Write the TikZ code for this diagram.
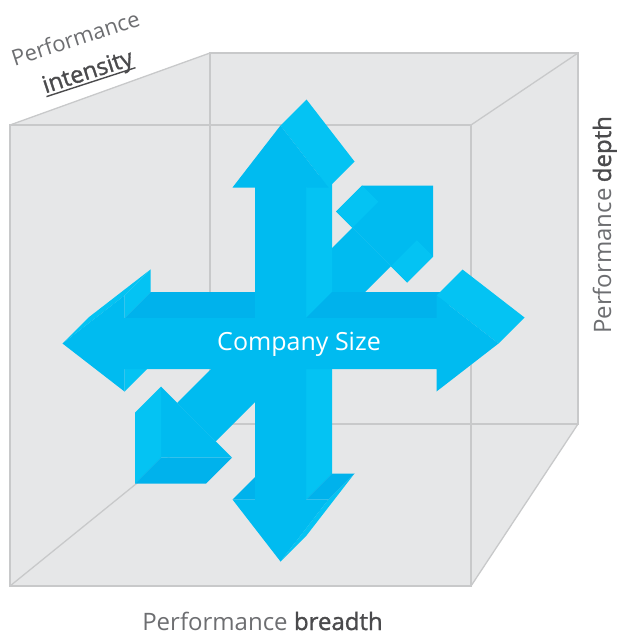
\documentclass[tikz,border=0pt]{standalone}
\usepackage{fontspec}
\setmainfont{Open Sans}
\newfontfamily\semib[FakeBold=1.3]{Open Sans}
\definecolor{cubefill}{HTML}{E6E7E8}
\definecolor{cubeline}{HTML}{C8C9CA}
\definecolor{cyanmid}{HTML}{00BBF0}
\definecolor{cyanlite}{HTML}{04C3F3}
\definecolor{cyandark}{HTML}{00B2EC}
\definecolor{labelgray}{HTML}{6D6E71}
\definecolor{labeldark}{HTML}{4A4A4C}
\newcommand{\ulword}[1]{\setbox0=\hbox{#1}\rlap{\rule[-4pt]{\wd0}{1.4pt}}\box0}
\begin{document}
\begin{tikzpicture}[x=1pt,y=-1pt,
  cubeedge/.style={draw=cubeline,line width=1.3pt,line cap=round},
  facemid/.style={fill=cyanmid},
  facelite/.style={fill=cyanlite},
  facedark/.style={fill=cyandark},
  lbl/.style={inner sep=0pt,text=labelgray,font=\fontsize{24}{28}\selectfont},
  slantlbl/.style={lbl,font=\fontsize{22}{26}\selectfont,anchor=base,rotate=18}]
\useasboundingbox (0,0) rectangle (617,639);

% ---- transparent cube ----
\fill[cubefill] (10,125) -- (210,53) -- (578,53) -- (578,424) -- (471,586) -- (10,586) -- cycle;
\draw[cubeedge] (210,53) -- (578,53) -- (578,424) -- (210,424) -- cycle;
\draw[cubeedge] (10,125) -- (471,125) -- (471,586) -- (10,586) -- cycle;
\draw[cubeedge] (10,125) -- (210,53);
\draw[cubeedge] (471,125) -- (578,53);
\draw[cubeedge] (471,586) -- (578,424);
\draw[cubeedge] (10,586) -- (210,424);

% ---- diagonal (depth) double arrow, behind the cross ----
% shaft
\fill[facemid] (177.25,402.75) -- (352.25,227.75) -- (390.75,266.25) -- (215.75,441.25) -- cycle;
% upper right head
\fill[facemid] (352.25,227.75) -- (336,211.5) -- (362,185.5) -- (433,185.5) -- (433,256.5)
  -- (407,282.5) -- (390.75,266.25) -- cycle;
\fill[facelite] (336,211.5) -- (352.25,227.75) -- (378.25,201.75) -- (362,185.5) -- cycle;
\fill[facelite] (390.75,266.25) -- (407,282.5) -- (433,256.5) -- (416.75,240.25) -- cycle;
% lower left head
\fill[facemid] (161,386.5) -- (161,457.5) -- (232,457.5) -- cycle;
\fill[facelite] (135,412.5) -- (161,386.5) -- (161,457.5) -- (135,483.5) -- cycle;
\fill[facedark] (135,483.5) -- (161,457.5) -- (232,457.5) -- (206,483.5) -- cycle;

% ---- cross: side faces ----
\fill[facelite] (306,187.5) -- (332,161.5) -- (332,292) -- (306,318) -- cycle;
\fill[facelite] (306,369) -- (332,343) -- (332,473.5) -- (306,499.5) -- cycle;
\fill[facelite] (280.5,125.5) -- (306.5,99.5) -- (354.5,161.5) -- (328.5,187.5) -- cycle;
\fill[facelite] (280.5,561.5) -- (328.5,499.5) -- (354.5,473.5) -- (306.5,535.5) -- cycle;
\fill[facedark] (232.5,499.5) -- (255,499.5) -- (281,473.5) -- (258.5,473.5) -- cycle;
\fill[facedark] (306,499.5) -- (328.5,499.5) -- (354.5,473.5) -- (332,473.5) -- cycle;
\fill[facedark] (124.5,318) -- (150.5,292) -- (281,292) -- (255,318) -- cycle;
\fill[facedark] (306,318) -- (332,292) -- (462.5,292) -- (436.5,318) -- cycle;
\fill[facelite] (62.5,343.5) -- (88.5,317.5) -- (150.5,269.5) -- (124.5,295.5) -- cycle;
\fill[facelite] (124.5,295.5) -- (150.5,269.5) -- (150.5,292) -- (124.5,318) -- cycle;
\fill[facelite] (124.5,369) -- (150.5,343) -- (150.5,365.5) -- (124.5,391.5) -- cycle;
\fill[facelite] (436.5,295.5) -- (498.5,343.5) -- (524.5,317.5) -- (462.5,269.5) -- cycle;

% ---- cross: front faces ----
\fill[facemid] (255,499.5) -- (232.5,499.5) -- (280.5,561.5) -- (328.5,499.5) -- (306,499.5)
  -- (306,187.5) -- (328.5,187.5) -- (280.5,125.5) -- (232.5,187.5) -- (255,187.5) -- cycle;
\fill[facemid] (124.5,318) -- (124.5,295.5) -- (62.5,343.5) -- (124.5,391.5) -- (124.5,369)
  -- (436.5,369) -- (436.5,391.5) -- (498.5,343.5) -- (436.5,295.5) -- (436.5,318) -- cycle;

% ---- labels ----
\node[anchor=base,inner sep=0pt,text=white,font=\fontsize{25}{30}\selectfont] (company) at (299,350.5) {Company Size};
\node[lbl,anchor=base] (breadthlbl) at (262.5,630) {Performance {\semib\color{labeldark}breadth}};
\node[lbl,anchor=base,rotate=90] (depthlbl) at (611,225) {Performance {\semib\color{labeldark}depth}};
\node[slantlbl] (perflbl) at (78,46) {Performance};
\node[slantlbl,font=\fontsize{23.5}{28}\selectfont] (intenslbl) at (90,79) {\semib\color{labeldark}\ulword{intensity}};
\end{tikzpicture}
\end{document}
